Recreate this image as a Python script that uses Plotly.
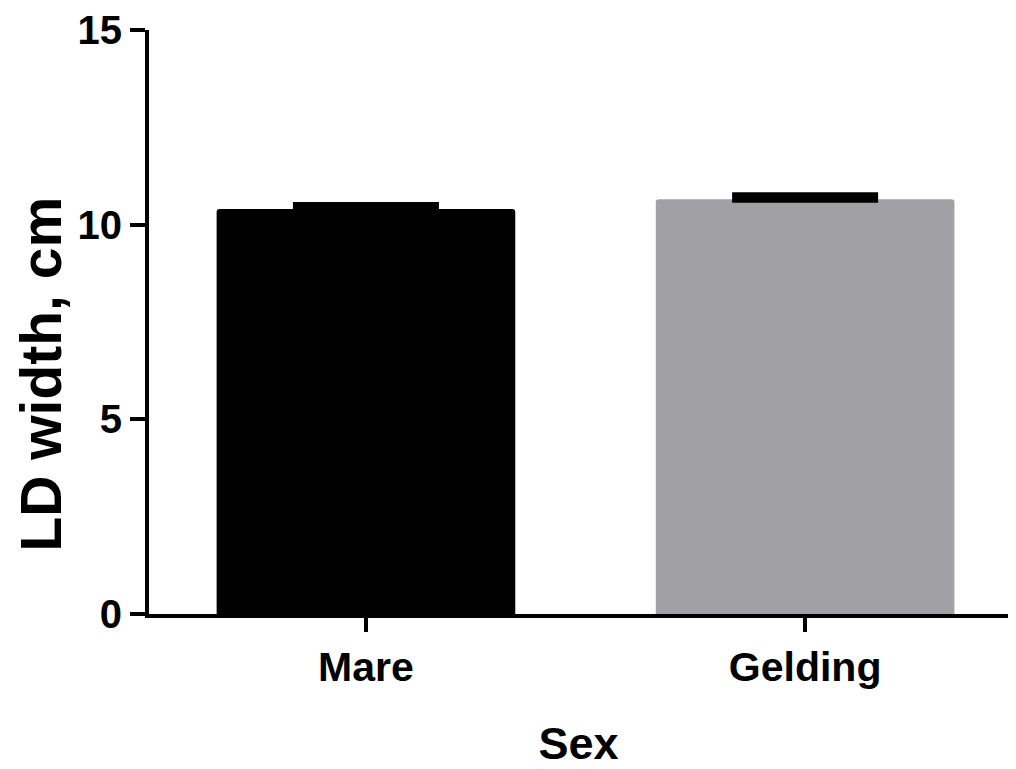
import plotly.graph_objects as go

categories = ["Mare", "Gelding"]
means = [10.40, 10.65]
sem_upper = [0.09, 0.09]
sem_lower = [0, 0]
bar_colors = ["#000000", "#a1a1a5"]
y_ticks = [0, 5, 10, 15]
x_title = "Sex"
y_title = "LD width, cm"

FONT = "Liberation Sans, Arial, sans-serif"

fig = go.Figure()
fig.add_trace(go.Bar(
    x=categories,
    y=means,
    width=0.68,
    marker=dict(color=bar_colors, line=dict(width=0), cornerradius=3),
    error_y=dict(type="data", symmetric=False, array=sem_upper, arrayminus=sem_lower,
                 color="#000000", thickness=7, width=73),
    showlegend=False,
))

fig.update_layout(
    width=1000, height=761,
    margin=dict(l=141, r=0, t=22, b=155),
    paper_bgcolor="white", plot_bgcolor="white",
    font=dict(family=FONT, color="black"),
)
fig.update_xaxes(
    range=[-0.494, 1.462],
    showline=True, linecolor="black", linewidth=4,
    ticks="outside", ticklen=14, tickwidth=4, tickcolor="black",
    tickfont=dict(family=FONT, size=41, weight="bold"),
    title=dict(text=x_title, font=dict(family=FONT, size=45, weight="bold"), standoff=40),
    showgrid=False, zeroline=False, automargin=False,
)
fig.update_yaxes(
    range=[0, 15],
    tickvals=y_ticks, ticktext=[str(v) for v in y_ticks],
    showline=True, linecolor="black", linewidth=4,
    ticks="outside", ticklen=15, tickwidth=4, tickcolor="black",
    tickfont=dict(family=FONT, size=40, weight="bold"),
    showgrid=False, zeroline=False, automargin=False,
)
fig.add_annotation(
    text=y_title, textangle=-90, showarrow=False,
    xref="paper", yref="paper", x=-0.1257, y=0.41,
    xanchor="center", yanchor="middle",
    font=dict(family=FONT, size=57, weight="bold", color="black"),
)

fig.write_html("out.html")
